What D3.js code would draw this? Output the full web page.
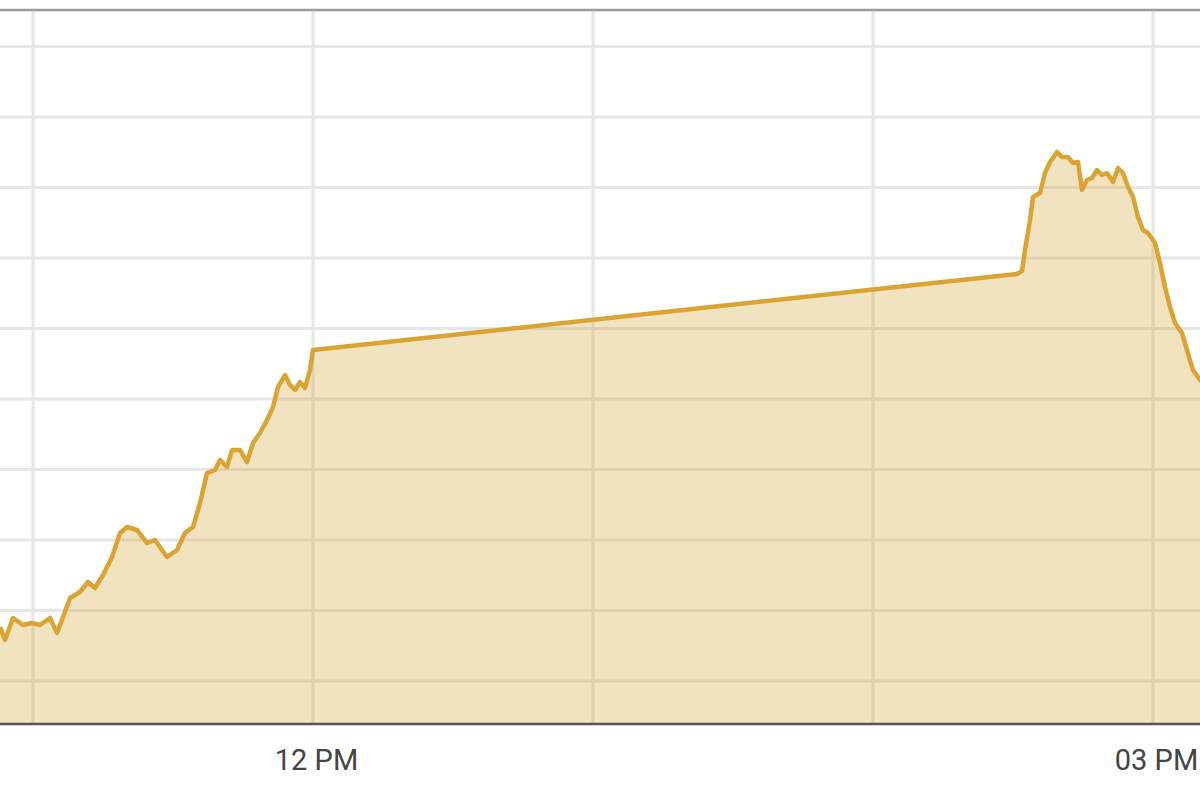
<!DOCTYPE html>
<html>
<head>
<meta charset="utf-8">
<script src="https://cdn.jsdelivr.net/npm/d3@7"></script>
<style>
    html, body { margin: 0; padding: 0; background: #fff; }
    #chart-area { width: 1200px; height: 800px; overflow: hidden; }
</style>
</head>
<body>
<div id="chart-area"></div>
<script>

// intraday series (morning session + afternoon session)
const times = [
    "10:52:56", "10:54:00", "10:55:43", "10:57:51", "10:59:47", "11:01:30", "11:03:39", "11:05:09",
    "11:06:26", "11:07:56", "11:10:04", "11:11:47", "11:13:17", "11:15:00", "11:16:56", "11:18:39",
    "11:20:09", "11:22:17", "11:24:26", "11:26:09", "11:28:43", "11:30:51", "11:32:34", "11:34:17",
    "11:35:47", "11:37:17", "11:39:00", "11:40:04", "11:41:34", "11:42:39", "11:44:21", "11:45:51",
    "11:47:09", "11:48:39", "11:50:09", "11:51:26", "11:52:30", "11:54:00", "11:55:04", "11:56:09",
    "11:57:13", "11:58:17", "11:59:21", "12:00:00",
    "14:30:51", "14:31:56", "14:32:34", "14:33:39", "14:34:17", "14:35:47", "14:36:51", "14:37:56",
    "14:39:26", "14:40:30", "14:41:47", "14:42:51", "14:43:56", "14:44:47", "14:45:51", "14:46:56",
    "14:48:00", "14:49:04", "14:50:09", "14:51:26", "14:52:30", "14:53:34", "14:54:39", "14:55:43",
    "14:56:47", "14:57:51", "14:58:56", "15:00:26", "15:01:30", "15:02:34", "15:03:39", "15:04:43",
    "15:06:13", "15:07:17", "15:08:34", "15:10:04", "15:11:09"
];

const values = [
    107.66, 105.82, 108.94, 107.94, 108.23, 107.94, 108.94, 106.81,
    109.08, 111.77, 112.62, 114.04, 113.19, 115.04, 117.59, 120.99,
    121.84, 121.42, 119.57, 120.00, 117.59, 118.58, 120.99, 121.84,
    125.25, 129.50, 129.93, 131.35, 130.35, 132.77, 132.77, 131.06,
    133.76, 135.18, 137.02, 138.87, 141.70, 143.40, 141.99, 141.28,
    142.41, 141.56, 144.11, 146.95,
    157.73, 158.16, 161.13, 165.39, 168.65, 169.22, 172.06, 173.62,
    175.04, 174.33, 174.33, 173.48, 173.62, 169.65, 171.06, 171.35,
    172.48, 171.77, 172.06, 170.78, 172.77, 172.06, 170.07, 168.65,
    165.82, 163.97, 163.55, 162.13, 159.29, 155.89, 153.05, 150.78,
    149.36, 146.95, 144.11, 142.70, 142.00
];

// axis settings
const timeStart = "11:00:00";
const timeEnd = "15:00:00";
const valueTicks = [100, 110, 120, 130, 140, 150, 160, 170, 180, 190];
const labelHours = [12, 15];

class IntradayChart {
    constructor(parentElement) {
        this.parentElement = parentElement;
        this.initVis();
    }

    initVis() {
        let vis = this;

        vis.width = 1200;
        vis.height = 800;
        vis.plot = {top: 10, bottom: 724, left: 0, right: 1200};

        vis.svg = d3.select("#" + vis.parentElement).append("svg")
            .attr("width", vis.width)
            .attr("height", vis.height);

        vis.parseTime = d3.timeParse("%H:%M:%S");

        // time scale: 11 AM .. 3 PM grid positions, data runs past both edges
        vis.x = d3.scaleTime()
            .domain([vis.parseTime(timeStart), vis.parseTime(timeEnd)])
            .range([33, 1153]);

        vis.y = d3.scaleLinear()
            .domain([valueTicks[0], valueTicks[valueTicks.length - 1]])
            .range([681, 46.5]);

        vis.svg.append("clipPath")
            .attr("id", "plot-clip")
            .append("rect")
            .attr("x", vis.plot.left)
            .attr("y", vis.plot.top)
            .attr("width", vis.plot.right - vis.plot.left)
            .attr("height", vis.plot.bottom - vis.plot.top);

        vis.wrangleData();
    }

    wrangleData() {
        let vis = this;
        vis.displayData = times.map((t, i) => ({time: vis.parseTime(t), value: values[i]}));
        vis.updateVis();
    }

    updateVis() {
        let vis = this;

        let grid = vis.svg.append("g").attr("class", "grid");

        // horizontal grid
        grid.selectAll(".hgrid")
            .data(valueTicks)
            .enter().append("line")
            .attr("class", "hgrid")
            .attr("x1", vis.plot.left)
            .attr("x2", vis.plot.right)
            .attr("y1", d => vis.y(d))
            .attr("y2", d => vis.y(d))
            .attr("stroke", "#e6e6e6")
            .attr("stroke-width", 3);

        // vertical grid, every hour
        let hours = d3.timeHour.every(1).range(vis.x.invert(vis.plot.left), vis.x.invert(vis.plot.right));
        grid.selectAll(".vgrid")
            .data(hours)
            .enter().append("line")
            .attr("class", "vgrid")
            .attr("x1", d => vis.x(d))
            .attr("x2", d => vis.x(d))
            .attr("y1", vis.plot.top)
            .attr("y2", vis.plot.bottom)
            .attr("stroke", "#e6e6e6")
            .attr("stroke-width", 3);

        let area = d3.area()
            .x(d => vis.x(d.time))
            .y0(vis.plot.bottom)
            .y1(d => vis.y(d.value));

        let line = d3.line()
            .x(d => vis.x(d.time))
            .y(d => vis.y(d.value));

        let series = vis.svg.append("g").attr("clip-path", "url(#plot-clip)");

        series.append("path")
            .datum(vis.displayData)
            .attr("d", area)
            .attr("fill", "#d3a22f")
            .attr("fill-opacity", 0.3);

        series.append("path")
            .datum(vis.displayData)
            .attr("d", line)
            .attr("fill", "none")
            .attr("stroke", "#daa332")
            .attr("stroke-width", 4.5)
            .attr("stroke-linejoin", "round");

        // top border
        vis.svg.append("line")
            .attr("x1", vis.plot.left).attr("x2", vis.plot.right)
            .attr("y1", vis.plot.top).attr("y2", vis.plot.top)
            .attr("stroke", "#9a9a9a")
            .attr("stroke-width", 2.5);

        // bottom axis
        vis.xAxis = d3.axisBottom(vis.x)
            .tickValues(hours.filter(d => labelHours.includes(d.getHours())))
            .tickFormat(d3.timeFormat("%I %p"))
            .tickSize(0)
            .tickPadding(25);

        let axis = vis.svg.append("g")
            .attr("class", "x-axis axis")
            .attr("transform", "translate(0," + vis.plot.bottom + ")")
            .call(vis.xAxis);

        axis.select(".domain")
            .attr("d", "M" + vis.plot.left + ",0H" + vis.plot.right)
            .attr("stroke", "#555")
            .attr("stroke-width", 2.5);

        axis.selectAll("text")
            .attr("fill", "#444")
            .attr("dx", 3)
            .style("font-family", "Roboto, 'Noto Sans', sans-serif")
            .style("font-size", "29px");
    }
}

new IntradayChart("chart-area");
</script>
</body>
</html>
